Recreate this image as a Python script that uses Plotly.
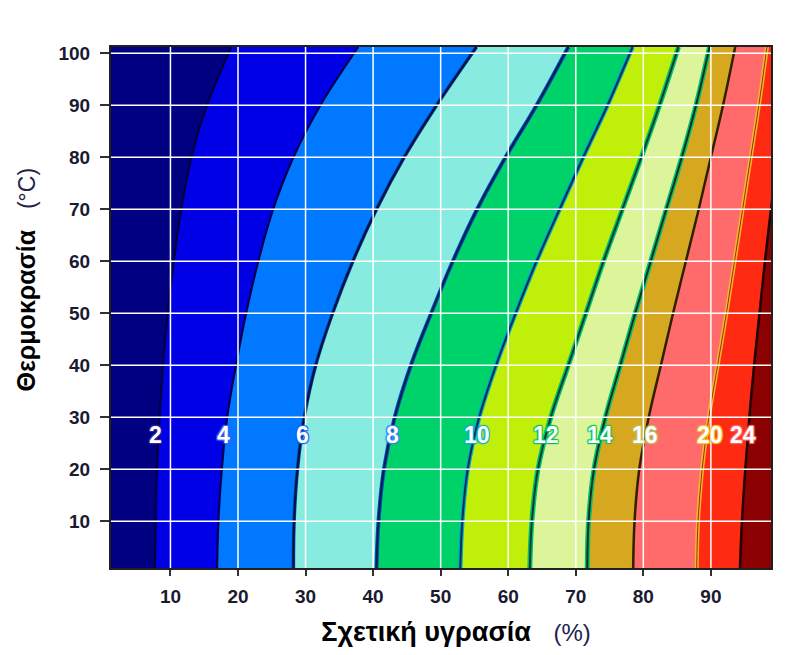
import plotly.graph_objects as go

# Temperature samples (°C) at which boundary positions were read
temps = [1, 10, 20, 30, 40, 50, 60, 70, 80, 90, 101.2]

# Relative humidity (%) of each iso-moisture boundary at those temperatures
levels = [2, 4, 6, 8, 10, 12, 14, 16, 20, 24]
b2 = [7.7, 7.8, 8.0, 8.4, 8.9, 9.6, 10.5, 11.6, 13.1, 15.4, 19.0]
b4 = [16.9, 17.1, 17.6, 18.4, 19.7, 21.2, 23.0, 25.2, 28.2, 32.2, 37.8]
b6 = [28.2, 28.3, 28.8, 29.8, 31.5, 34.0, 37.0, 40.5, 44.6, 49.4, 55.3]
b8 = [40.5, 40.8, 41.6, 43.2, 45.6, 48.6, 51.8, 55.4, 59.6, 64.2, 68.9]
b10 = [52.9, 53.2, 54.0, 55.7, 58.2, 61.1, 64.2, 67.6, 71.1, 74.7, 78.4]
b12 = [63.2, 63.5, 64.4, 66.3, 68.9, 71.5, 74.1, 76.9, 79.7, 82.4, 85.2]
b14 = [71.7, 71.9, 72.7, 74.4, 76.6, 78.8, 81.1, 83.4, 85.7, 87.8, 89.8]
b16 = [78.5, 78.7, 79.4, 80.8, 82.6, 84.4, 86.3, 88.2, 90.0, 91.8, 93.6]
b20 = [87.9, 88.1, 88.7, 89.7, 91.0, 92.3, 93.5, 94.7, 95.9, 97.1, 98.3]
b24 = [94.3, 94.6, 95.1, 95.7, 96.4, 97.2, 98.0, 98.9, 99.8, 100.7, 101.7]
boundaries = [b2, b4, b6, b8, b10, b12, b14, b16, b20, b24]

# Band colours (left to right)
band_colors = ["#000080", "#0000E6", "#0078FF", "#87EBDF", "#00D26A", "#C0F00A",
               "#DDF59A", "#D6A820", "#FF6B6B", "#FF2A12", "#8B0000"]

# Boundary line styles: (halo colour or None, halo width, core colour, core width)
line_styles = [
    (None, 0, "#00003a", 2.2),
    (None, 0, "#000050", 2.2),
    ("#0040a0", 3.5, "#001040", 2),
    ("#0050c0", 4, "#002050", 2),
    ("#00a8d0", 4.5, "#003050", 2),
    ("#00c070", 5, "#004030", 2),
    ("#00c070", 5, "#103020", 2),
    (None, 0, "#302000", 2.5),
    ("#ffb030", 4, "#804000", 1),
    (None, 0, "#200000", 2.5),
]

# Contour label positions
label_x = [7.8, 17.9, 29.5, 42.8, 55.4, 65.6, 73.6, 80.3, 89.9, 94.8]
label_y = 26.6
label_glow = ["#2a2aa0", "#4060ff", "#1060ff", "#3080ff", "#00b0d0",
              "#00c060", "#00c060", "#b8c060", "#f0c030", "#ff6060"]

x_ticks = [10, 20, 30, 40, 50, 60, 70, 80, 90]
y_ticks = [10, 20, 30, 40, 50, 60, 70, 80, 90, 100]
x_range = [1.2, 98.9]
y_range = [1, 101.2]

fig = go.Figure()

edges = [[-5] * len(temps)] + boundaries + [[110] * len(temps)]
fig.add_trace(go.Scatter(x=edges[0], y=temps, mode="lines", line=dict(width=0),
                         showlegend=False, hoverinfo="skip"))
for i in range(1, len(edges)):
    fig.add_trace(go.Scatter(
        x=edges[i], y=temps, mode="lines",
        line=dict(width=0, shape="spline", smoothing=1),
        fill="tonextx", fillcolor=band_colors[i - 1],
        showlegend=False, hoverinfo="skip"))

for b, (hc, hw, cc, cw) in zip(boundaries, line_styles):
    if hc:
        fig.add_trace(go.Scatter(x=b, y=temps, mode="lines",
                                 line=dict(color=hc, width=hw, shape="spline", smoothing=1),
                                 showlegend=False, hoverinfo="skip"))
    fig.add_trace(go.Scatter(x=b, y=temps, mode="lines",
                             line=dict(color=cc, width=cw, shape="spline", smoothing=1),
                             showlegend=False, hoverinfo="skip"))

shapes = []
for xv in x_ticks:
    shapes.append(dict(type="line", xref="x", yref="paper", x0=xv, x1=xv, y0=0, y1=1,
                       line=dict(color="white", width=1.5), layer="above"))
for yv in y_ticks:
    shapes.append(dict(type="line", xref="paper", yref="y", x0=0, x1=1, y0=yv, y1=yv,
                       line=dict(color="white", width=1.5), layer="above"))

annotations = []
for lv, lx, gc in zip(levels, label_x, label_glow):
    sh = f"-1px -1px 1px {gc}, 1px -1px 1px {gc}, -1px 1px 1px {gc}, 1px 1px 1px {gc}"
    annotations.append(dict(x=lx, y=label_y, xref="x", yref="y", text=f"<b>{lv}</b>",
                            showarrow=False,
                            font=dict(family="Liberation Sans, Arial", size=23, color="white",
                                      shadow=sh)))

NB = "&nbsp;"
x_title = (NB * 4 + "<b>Σχετική υγρασία</b>" + NB * 3 +
           "<span style='font-size:24px;color:#23234a'>(%)</span>")
y_title = (NB * 8 + "<b>Θερμοκρασία</b>" + NB * 3 +
           "<span style='font-size:23px;color:#23234a'>(°C)</span>")

tick_font = dict(size=19, color="#1a1a30", family="Liberation Sans, Arial", weight="bold")

fig.update_layout(
    width=789, height=655,
    margin=dict(l=111, r=18, t=47, b=87),
    paper_bgcolor="white", plot_bgcolor="#000080",
    shapes=shapes, annotations=annotations,
    font=dict(family="Liberation Sans, Arial"),
    xaxis=dict(
        range=x_range, tickvals=x_ticks, ticks="outside", ticklen=6, tickwidth=2,
        tickcolor="#303030", showgrid=False, zeroline=False, ticklabelstandoff=4,
        showline=True, mirror=True, linecolor="#202020", linewidth=2,
        tickfont=tick_font,
        title=dict(text=x_title, font=dict(size=27, color="black"), standoff=16),
    ),
    yaxis=dict(
        range=y_range, tickvals=y_ticks, ticks="outside", ticklen=9, tickwidth=2,
        tickcolor="#303030", showgrid=False, zeroline=False, ticklabelstandoff=6,
        showline=True, mirror=True, linecolor="#202020", linewidth=2,
        tickfont=tick_font,
        title=dict(text=y_title, font=dict(size=25, color="black"), standoff=16),
    ),
)

fig.write_html("out.html")
